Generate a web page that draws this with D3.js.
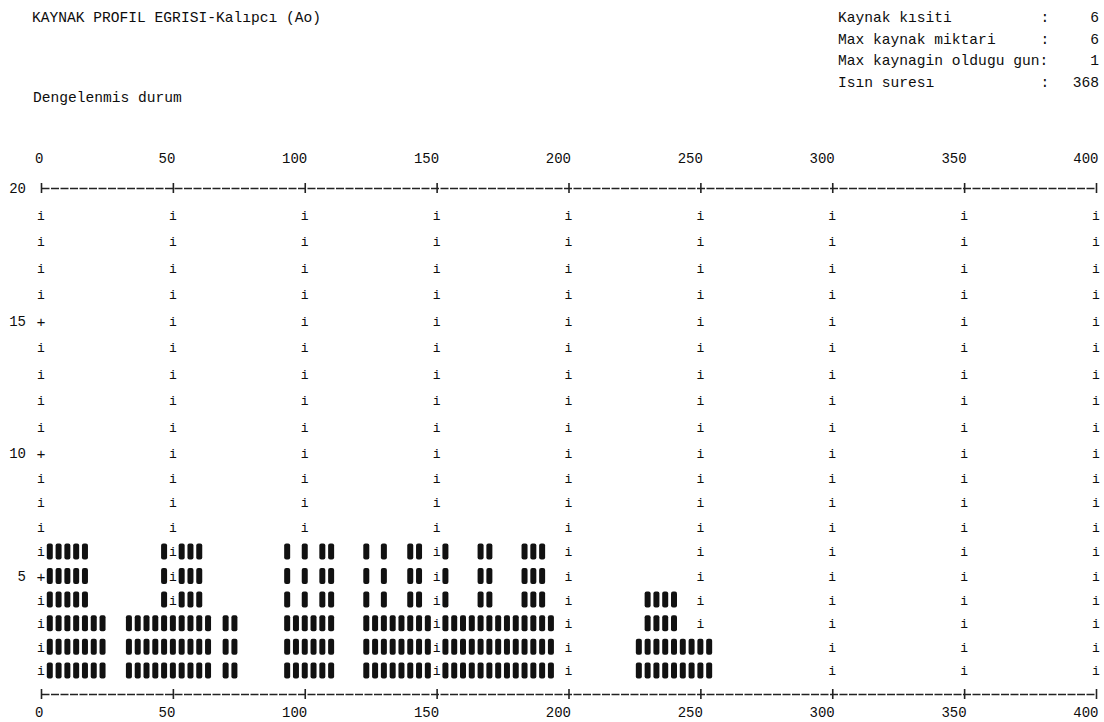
<!DOCTYPE html>
<html>
<head>
<meta charset="utf-8">
<script src="https://cdn.jsdelivr.net/npm/d3@7"></script>
<style>
  body { margin: 0; background: #fff; }
  svg text { font-family: 'Liberation Mono', 'DejaVu Sans Mono', monospace; fill: #0d0d0d; }
</style>
</head>
<body>
<div id="chart"></div>
<script>
// printout data: each printed column is 400/120 days wide
var colDays = 400 / 120;
var runStart = [1, 6, 10, 14, 15, 16, 19, 21, 28, 29, 30, 31, 32, 37, 38, 39, 40, 42, 44, 46, 47, 50, 52, 55, 58, 68, 69, 73];
var runEnd   = [5, 7, 13, 14, 15, 18, 19, 22, 28, 29, 30, 31, 33, 37, 38, 39, 41, 43, 44, 46, 49, 51, 54, 57, 58, 68, 72, 76];
var runLevel = [6, 3, 3, 6, 3, 6, 3, 3, 6, 3, 6, 3, 6, 6, 3, 6, 3, 6, 3, 6, 3, 6, 3, 6, 3, 2, 4, 2];

var xTicks = [0, 50, 100, 150, 200, 250, 300, 350, 400];
var yTicks = [5, 10, 15, 20];

var infoLabels = ['Kaynak kısiti', 'Max kaynak miktari', 'Max kaynagin oldugu gun:', 'Isın suresı'];
var infoValues = ['6', '6', '1', '368'];

var width = 1104, height = 722;

var svg = d3.select('#chart').append('svg')
	.attr('width', width)
	.attr('height', height);

var x = d3.scaleLinear().domain([0, 400]).range([41, 1096]);
// the scanned printout is slightly stretched towards the top
var y = d3.scaleLinear().domain([0, 5, 10, 15, 20]).range([694, 576, 453, 321, 188]);

// header texts
svg.append('text').attr('x', 32).attr('y', 22).attr('font-size', 14.6)
	.text('KAYNAK PROFIL EGRISI-Kalıpcı (Ao)');
svg.append('text').attr('x', 33).attr('y', 102).attr('font-size', 14.6)
	.text('Dengelenmis durum');

var info = svg.append('g').attr('font-size', 14.6);
infoLabels.forEach(function (d, i) {
	var yy = 22 + i * 21.7;
	info.append('text').attr('x', 838).attr('y', yy).text(d);
	if (d.slice(-1) !== ':') {
		info.append('text').attr('x', 1045).attr('y', yy).attr('text-anchor', 'middle').text(':');
	}
	info.append('text').attr('x', 1099).attr('y', yy).attr('text-anchor', 'end').text(infoValues[i]);
});

// expand runs into columns
var cols = [];
runStart.forEach(function (s, i) {
	for (var k = s; k <= runEnd[i]; k++) cols.push({ col: k, level: runLevel[i] });
});
var levelAt = {};
cols.forEach(function (d) { levelAt[d.col] = d.level; });

// axes (top and bottom)
var styleAxis = function (g) {
	g.select('.domain').attr('stroke', '#222').attr('stroke-width', 1.4).attr('stroke-dasharray', '8,1.5');
	g.selectAll('.tick line').remove();
	g.selectAll('.tick').append('line')
		.attr('y1', -5).attr('y2', 5)
		.attr('stroke', '#222').attr('stroke-width', 1.6);
	g.selectAll('.tick text')
		.attr('text-anchor', 'end')
		.attr('x', 2)
		.attr('font-size', 14)
		.attr('font-family', null)
		.attr('fill', '#0d0d0d');
};

svg.append('g')
	.attr('transform', 'translate(0,' + y(20) + ')')
	.call(d3.axisTop(x).tickValues(xTicks).tickSizeOuter(0).tickSize(0).tickPadding(25))
	.call(styleAxis);

svg.append('g')
	.attr('transform', 'translate(0,' + y(0) + ')')
	.call(d3.axisBottom(x).tickValues(xTicks).tickSizeOuter(0).tickSize(0).tickPadding(13))
	.call(styleAxis);

// left labels
var left = svg.append('g')
	.attr('transform', 'translate(' + x(0) + ',0)')
	.call(d3.axisLeft(y).tickValues(yTicks).tickSize(0).tickPadding(15));
left.select('.domain').remove();
left.selectAll('.tick text').attr('font-size', 14).attr('font-family', null).attr('fill', '#0d0d0d').attr('dy', '0.35em');
left.selectAll('.tick').filter(function (d) { return d !== 20; })
	.append('text')
	.attr('text-anchor', 'middle')
	.attr('dy', '0.35em')
	.attr('font-size', 15)
	.attr('font-family', null)
	.attr('fill', '#0d0d0d')
	.text('+');

// vertical grid, printed as thin "i" characters
var rows = d3.range(1, 20);
var gridCells = [];
xTicks.forEach(function (t) {
	var k = Math.round(t / colDays);
	rows.forEach(function (r) {
		if (t === 0 && yTicks.indexOf(r) >= 0) return;
		if ((levelAt[k] || 0) >= r) return;
		gridCells.push({ day: t, row: r });
	});
});

svg.append('g').selectAll('text')
	.data(gridCells)
	.enter()
	.append('text')
	.attr('x', function (d) { return x(d.day); })
	.attr('y', function (d) { return y(d.row); })
	.attr('dy', '0.38em')
	.attr('text-anchor', 'middle')
	.attr('font-size', 13)
	.attr('fill', '#222')
	.text('i');

// resource bars, one block per printed cell
var cells = [];
cols.forEach(function (d) {
	for (var r = 1; r <= d.level; r++) cells.push({ day: d.col * colDays, row: r });
});

svg.append('g').selectAll('rect')
	.data(cells)
	.enter()
	.append('rect')
	.attr('x', function (d) { return x(d.day) - 3; })
	.attr('y', function (d) { return y(d.row) - 8; })
	.attr('width', 6)
	.attr('height', 16)
	.attr('rx', 2)
	.attr('fill', '#111');
</script>
</body>
</html>
